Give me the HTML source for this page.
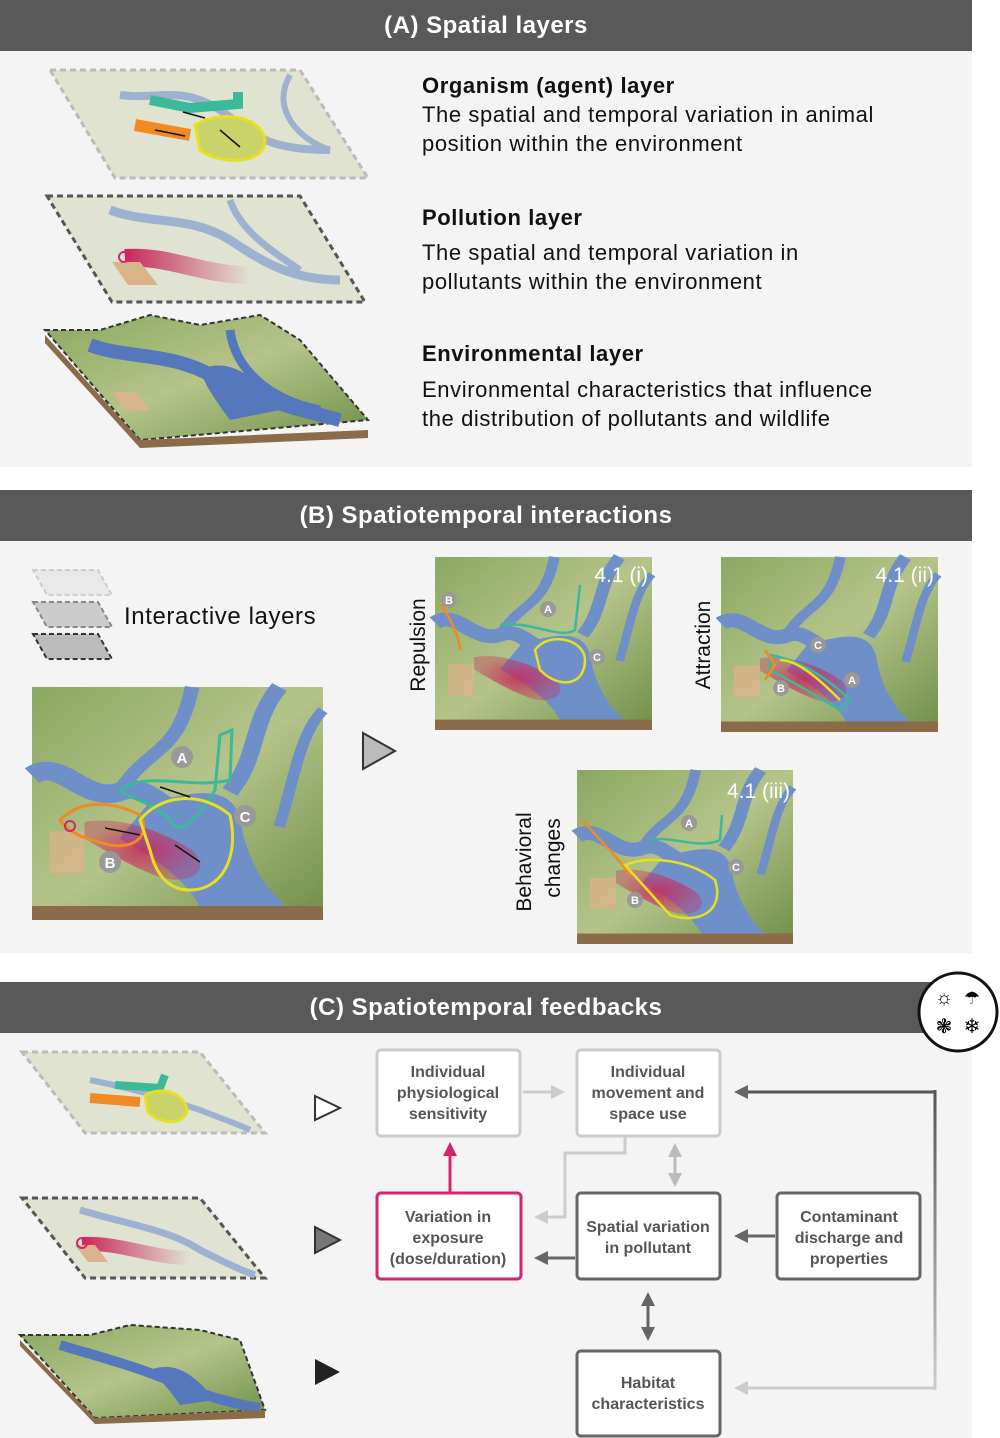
<!DOCTYPE html>
<html><head><meta charset="utf-8"><style>
html,body{margin:0;padding:0;background:#fff;}
svg{display:block;font-family:"Liberation Sans",sans-serif;}
</style></head><body>
<svg width="1000" height="1438" viewBox="0 0 1000 1438" xmlns="http://www.w3.org/2000/svg">
<defs>
<linearGradient id="pol" x1="0" x2="1"><stop offset="0" stop-color="#c8285a"/><stop offset="1" stop-color="#c8285a" stop-opacity="0"/></linearGradient>
<linearGradient id="grn" x1="0" y1="0" x2="1" y2="1"><stop offset="0" stop-color="#8aa860"/><stop offset="0.5" stop-color="#b5c48a"/><stop offset="1" stop-color="#6f8f4a"/></linearGradient>
<linearGradient id="rline" gradientUnits="userSpaceOnUse" x1="0" y1="1092" x2="0" y2="1388"><stop offset="0" stop-color="#555"/><stop offset="1" stop-color="#ccc"/></linearGradient>
<radialGradient id="plume"><stop offset="0" stop-color="#c8285a" stop-opacity="0.85"/><stop offset="1" stop-color="#c8285a" stop-opacity="0.35"/></radialGradient>
<marker id="ad" markerUnits="userSpaceOnUse" markerWidth="14" markerHeight="14" refX="7" refY="7" orient="auto"><path d="M0,0 L14,7 L0,14 z" fill="#666"/></marker>
<marker id="al" markerUnits="userSpaceOnUse" markerWidth="14" markerHeight="14" refX="7" refY="7" orient="auto"><path d="M0,0 L14,7 L0,14 z" fill="#ccc"/></marker>
<marker id="ap" markerUnits="userSpaceOnUse" markerWidth="14" markerHeight="14" refX="7" refY="7" orient="auto"><path d="M0,0 L14,7 L0,14 z" fill="#d6246e"/></marker>
<marker id="adS" markerUnits="userSpaceOnUse" markerWidth="14" markerHeight="14" refX="7" refY="7" orient="auto-start-reverse"><path d="M0,0 L14,7 L0,14 z" fill="#666"/></marker>
<marker id="alS" markerUnits="userSpaceOnUse" markerWidth="14" markerHeight="14" refX="7" refY="7" orient="auto-start-reverse"><path d="M0,0 L14,7 L0,14 z" fill="#bbb"/></marker>
<g id="map">
<rect width="100" height="100" fill="url(#grn)"/>
<path d="M0,38 C10,30 18,50 30,45 C40,40 45,55 55,55" stroke="#6f8fc9" stroke-width="8" fill="none"/>
<path d="M40,50 C55,45 70,40 72,60 C75,80 85,95 95,100 L60,100 C55,85 45,75 30,65 z" fill="#6f8fc9"/>
<path d="M30,45 C40,25 50,30 55,0" stroke="#6f8fc9" stroke-width="5" fill="none"/>
<path d="M68,45 C78,30 75,15 85,0" stroke="#6f8fc9" stroke-width="6" fill="none"/>
<path d="M85,60 C90,40 92,20 100,10" stroke="#6f8fc9" stroke-width="4" fill="none"/>
<path d="M18,58 C30,55 45,62 55,70 C62,78 55,85 45,82 C35,78 25,70 18,65z" fill="url(#plume)"/>
<rect x="6" y="62" width="12" height="18" fill="#d9b38a" opacity="0.8"/>
<rect y="94" width="100" height="6" fill="#8a6b4a"/>
</g>
</defs>

<!-- A -->
<rect x="0" y="0" width="972" height="51" fill="#595959"/>
<text x="486" y="33" fill="#fff" font-size="24" font-weight="bold" text-anchor="middle" letter-spacing="0.5">(A) Spatial layers</text>
<rect x="0" y="51" width="972" height="416" fill="#f4f4f4"/>
<polygon points="50,70 300,70 368,178 115,178" fill="#dfe3d0" stroke="#bbb" stroke-width="3" stroke-dasharray="6,4"/>
<path d="M120,95 C160,100 180,85 220,110 C250,130 260,150 330,150" stroke="#9fb1d0" stroke-width="8" fill="none"/>
<path d="M290,75 C270,110 300,140 330,150" stroke="#9fb1d0" stroke-width="6" fill="none"/>
<path d="M150,100 L190,108 L238,104 L238,92" stroke="#3cb89a" stroke-width="10" fill="none"/>
<path d="M135,125 L190,135" stroke="#f08a24" stroke-width="12" fill="none"/>
<path d="M195,125 C220,110 260,115 265,140 C265,165 220,165 200,150 z" fill="#c9d36a" stroke="#e6e020" stroke-width="3"/>
<g stroke="#111" stroke-width="1.5"><line x1="183" y1="112" x2="205" y2="118"/><line x1="155" y1="130" x2="185" y2="136"/><line x1="220" y1="130" x2="240" y2="147"/></g>
<polygon points="47,196 300,196 365,302 112,302" fill="#e0e3d2" stroke="#555" stroke-width="3" stroke-dasharray="6,4"/>
<path d="M110,210 C150,225 190,215 230,240 C260,260 290,280 340,280" stroke="#9fb1d0" stroke-width="9" fill="none"/>
<path d="M230,200 C240,230 270,250 300,270" stroke="#9fb1d0" stroke-width="7" fill="none"/>
<path d="M125,258 C170,255 200,275 250,275" stroke="url(#pol)" stroke-width="18" fill="none"/>
<polygon points="112,262 140,262 158,285 128,285" fill="#d9b38a"/>
<circle cx="124" cy="257" r="5" fill="none" stroke="#d6246e" stroke-width="2"/>
<polygon points="45,330 100,330 150,315 200,325 260,315 300,340 368,420 140,440" fill="url(#grn)" stroke="#333" stroke-width="2" stroke-dasharray="5,3"/>
<path d="M90,345 C130,360 170,350 220,380 C260,400 300,410 340,420" stroke="#5577bb" stroke-width="14" fill="none"/>
<path d="M200,370 C230,355 260,380 280,410 L230,420 C215,400 205,385 200,370z" fill="#5577bb"/>
<path d="M230,330 C235,370 270,400 320,410" stroke="#5577bb" stroke-width="9" fill="none"/>
<polygon points="45,335 140,440 140,448 45,343" fill="#8a6b4a"/>
<polygon points="140,440 368,430 368,438 140,448" fill="#8a6b4a"/>
<polygon points="112,392 135,392 150,410 125,410" fill="#d9b38a"/>
<g fill="#111" font-size="22" letter-spacing="0.6">
<text x="422" y="93" font-weight="bold">Organism (agent) layer</text>
<text x="422" y="122">The spatial and temporal variation in animal</text>
<text x="422" y="151">position within the environment</text>
<text x="422" y="225" font-weight="bold">Pollution layer</text>
<text x="422" y="260">The spatial and temporal variation in</text>
<text x="422" y="289">pollutants within the environment</text>
<text x="422" y="361" font-weight="bold">Environmental layer</text>
<text x="422" y="397">Environmental characteristics that influence</text>
<text x="422" y="426">the distribution of pollutants and wildlife</text>
</g>

<!-- B -->
<rect x="0" y="490" width="972" height="51" fill="#595959"/>
<text x="486" y="523" fill="#fff" font-size="24" font-weight="bold" text-anchor="middle" letter-spacing="0.5">(B) Spatiotemporal interactions</text>
<rect x="0" y="541" width="972" height="412" fill="#f4f4f4"/>
<polygon points="33,570 98,570 112,595 47,595" fill="#e8e8e8" stroke="#ccc" stroke-width="2" stroke-dasharray="5,3"/>
<polygon points="33,602 98,602 112,627 47,627" fill="#ccc" stroke="#888" stroke-width="2" stroke-dasharray="5,3"/>
<polygon points="33,634 98,634 112,659 47,659" fill="#bbb" stroke="#333" stroke-width="2" stroke-dasharray="5,3"/>
<text x="124" y="624" font-size="24" fill="#111" letter-spacing="0.6">Interactive layers</text>
<use href="#map" transform="translate(32,687) scale(2.91,2.33)"/>
<g fill="none" stroke-width="3">
<path d="M120,790 C150,770 190,790 230,780 L232,730 L220,735 L215,790 C200,815 180,840 170,820 C150,800 130,800 120,790z" stroke="#3cb89a"/>
<path d="M60,820 C80,800 110,800 140,815 C150,830 140,850 110,845 C90,840 70,835 60,820z" stroke="#f08a24"/>
<path d="M140,820 C160,795 200,790 230,815 C240,860 220,890 190,890 C165,890 155,870 150,850z" stroke="#e6e020"/>
</g>
<circle cx="70" cy="826" r="5" fill="none" stroke="#d6246e" stroke-width="2"/>
<g stroke="#111" stroke-width="1.5"><line x1="160" y1="787" x2="190" y2="797"/><line x1="105" y1="828" x2="140" y2="835"/><line x1="175" y1="845" x2="200" y2="862"/></g>
<g fill="#999"><circle cx="182" cy="757" r="11"/><circle cx="245" cy="816" r="11"/><circle cx="110" cy="862" r="11"/></g>
<g fill="#fff" font-size="15" font-weight="bold" text-anchor="middle"><text x="182" y="763">A</text><text x="245" y="822">C</text><text x="110" y="868">B</text></g>
<polygon points="363,733 395,751 363,769" fill="#bbb" stroke="#333" stroke-width="2"/>
<use href="#map" transform="translate(435,557) scale(2.17,1.73)"/>
<use href="#map" transform="translate(721,557) scale(2.17,1.75)"/>
<use href="#map" transform="translate(577,770) scale(2.16,1.74)"/>
<g fill="none" stroke-width="2.5">
<path d="M500,625 C530,620 560,640 575,630 L580,585" stroke="#3cb89a"/>
<path d="M440,605 C450,615 460,640 460,650" stroke="#f08a24"/>
<path d="M535,650 C550,630 585,640 585,660 C585,685 560,690 540,670z" stroke="#e6e020"/>
<path d="M770,655 C800,660 830,680 850,700 L840,710 C815,695 790,680 770,670z" stroke="#3cb89a"/>
<path d="M765,650 L775,665 L765,680" stroke="#f08a24"/>
<path d="M780,660 C800,660 825,685 840,700" stroke="#e6e020"/>
<path d="M650,840 C670,835 700,850 720,840 L722,815" stroke="#3cb89a"/>
<path d="M582,820 C600,840 620,860 630,875" stroke="#f08a24"/>
<path d="M625,865 C650,855 690,860 715,880 C725,910 700,925 670,915z" stroke="#e6e020"/>
</g>
<g fill="#999"><circle cx="449" cy="600" r="8"/><circle cx="548" cy="609" r="8"/><circle cx="597" cy="657" r="8"/><circle cx="818" cy="645" r="8"/><circle cx="852" cy="680" r="8"/><circle cx="781" cy="688" r="8"/><circle cx="689" cy="823" r="8"/><circle cx="736" cy="867" r="8"/><circle cx="635" cy="900" r="8"/></g>
<g fill="#fff" font-size="11" font-weight="bold" text-anchor="middle"><text x="449" y="604">B</text><text x="548" y="613">A</text><text x="597" y="661">C</text><text x="818" y="649">C</text><text x="852" y="684">A</text><text x="781" y="692">B</text><text x="689" y="827">A</text><text x="736" y="871">C</text><text x="635" y="904">B</text></g>
<g fill="#fff" font-size="21" text-anchor="end"><text x="648" y="582">4.1 (i)</text><text x="934" y="582">4.1 (ii)</text><text x="790" y="798">4.1 (iii)</text></g>
<g font-size="21" fill="#111">
<text transform="translate(425,645) rotate(-90)" text-anchor="middle">Repulsion</text>
<text transform="translate(710,645) rotate(-90)" text-anchor="middle">Attraction</text>
<text transform="translate(531,862) rotate(-90)" text-anchor="middle">Behavioral</text>
<text transform="translate(560,858) rotate(-90)" text-anchor="middle">changes</text>
</g>

<!-- C -->
<rect x="0" y="982" width="972" height="51" fill="#595959"/>
<text x="486" y="1015" fill="#fff" font-size="24" font-weight="bold" text-anchor="middle" letter-spacing="0.5">(C) Spatiotemporal feedbacks</text>
<rect x="0" y="1033" width="972" height="405" fill="#f4f4f4"/>
<circle cx="958" cy="1012" r="39" fill="#fff" stroke="#111" stroke-width="3"/>
<text x="944" y="1004" font-size="20" text-anchor="middle">☼</text><text x="972" y="1004" font-size="18" text-anchor="middle">☂</text>
<text x="944" y="1033" font-size="20" text-anchor="middle">❃</text><text x="972" y="1033" font-size="20" text-anchor="middle">❄</text>
<polygon points="22,1052 200,1052 265,1133 85,1133" fill="#dfe3d0" stroke="#bbb" stroke-width="3" stroke-dasharray="6,4"/>
<path d="M90,1080 C140,1090 170,1100 200,1110 C220,1118 240,1125 250,1130" stroke="#9fb1d0" stroke-width="6" fill="none"/>
<path d="M115,1085 L160,1088 L165,1075" stroke="#3cb89a" stroke-width="8" fill="none"/>
<path d="M90,1098 L140,1102" stroke="#f08a24" stroke-width="10" fill="none"/>
<path d="M145,1095 C165,1085 185,1095 187,1110 C185,1125 160,1125 148,1112z" fill="#c9d36a" stroke="#e6e020" stroke-width="3"/>
<polygon points="22,1198 200,1198 265,1278 85,1278" fill="#e0e3d2" stroke="#555" stroke-width="3" stroke-dasharray="6,4"/>
<path d="M80,1210 C130,1225 170,1230 200,1250 C220,1260 240,1270 255,1275" stroke="#9fb1d0" stroke-width="7" fill="none"/>
<path d="M82,1244 C120,1242 150,1258 190,1258" stroke="url(#pol)" stroke-width="14" fill="none"/>
<polygon points="75,1245 95,1245 108,1262 88,1262" fill="#d9b38a"/>
<circle cx="82" cy="1243" r="5" fill="none" stroke="#d6246e" stroke-width="2"/>
<polygon points="20,1335 90,1335 130,1325 200,1330 240,1340 265,1410 95,1418" fill="url(#grn)" stroke="#333" stroke-width="2" stroke-dasharray="5,3"/>
<path d="M60,1345 C110,1360 150,1370 190,1390 C220,1400 240,1405 260,1408" stroke="#5577bb" stroke-width="10" fill="none"/>
<path d="M150,1370 C175,1360 195,1375 215,1400 L180,1405 C170,1390 160,1380 150,1370z" fill="#5577bb"/>
<polygon points="20,1340 95,1418 95,1424 20,1346" fill="#8a6b4a"/><polygon points="95,1418 265,1410 265,1418 95,1424" fill="#8a6b4a"/>
<polygon points="315,1096 340,1108 315,1120" fill="#fff" stroke="#333" stroke-width="2"/>
<polygon points="315,1227 340,1240 315,1253" fill="#777" stroke="#333" stroke-width="2"/>
<polygon points="315,1359 340,1372 315,1385" fill="#222"/>

<g stroke-width="3" fill="#fff">
<rect x="377" y="1050" width="143" height="86" rx="4" stroke="#ccc"/>
<rect x="577" y="1050" width="143" height="86" rx="4" stroke="#ccc"/>
<rect x="377" y="1193" width="144" height="86" rx="4" stroke="#d6246e"/>
<rect x="577" y="1193" width="143" height="86" rx="4" stroke="#666"/>
<rect x="777" y="1193" width="143" height="86" rx="4" stroke="#666"/>
<rect x="577" y="1351" width="143" height="85" rx="4" stroke="#666"/>
</g>
<g fill="#555" font-size="16" font-weight="bold" text-anchor="middle">
<text x="448" y="1077">Individual</text><text x="448" y="1098">physiological</text><text x="448" y="1119">sensitivity</text>
<text x="648" y="1077">Individual</text><text x="648" y="1098">movement and</text><text x="648" y="1119">space use</text>
<text x="448" y="1222">Variation in</text><text x="448" y="1243">exposure</text><text x="448" y="1264">(dose/duration)</text>
<text x="648" y="1232">Spatial variation</text><text x="648" y="1253">in pollutant</text>
<text x="849" y="1222">Contaminant</text><text x="849" y="1243">discharge and</text><text x="849" y="1264">properties</text>
<text x="648" y="1388">Habitat</text><text x="648" y="1409">characteristics</text>
</g>
<g fill="none" stroke-width="3">
<line x1="523" y1="1092" x2="558" y2="1092" stroke="#ccc" marker-end="url(#al)"/>
<line x1="450" y1="1192" x2="450" y2="1149" stroke="#d6246e" marker-end="url(#ap)"/>
<line x1="675" y1="1150" x2="675" y2="1180" stroke="#bbb" marker-start="url(#alS)" marker-end="url(#alS)"/>
<polyline points="625,1137 625,1153 565,1153 565,1217 541,1217" stroke="#ccc" marker-end="url(#al)"/>
<line x1="575" y1="1258" x2="541" y2="1258" stroke="#666" marker-end="url(#ad)"/>
<line x1="775" y1="1236" x2="741" y2="1236" stroke="#666" marker-end="url(#ad)"/>
<line x1="648" y1="1299" x2="648" y2="1334" stroke="#666" marker-start="url(#adS)" marker-end="url(#adS)"/>
<line x1="935" y1="1090" x2="935" y2="1390" stroke="url(#rline)"/>
<line x1="936" y1="1092" x2="741" y2="1092" stroke="#555" marker-end="url(#ad)"/>
<line x1="936" y1="1388" x2="741" y2="1388" stroke="#ccc" marker-end="url(#al)"/>
</g>
</svg>
</body></html>
